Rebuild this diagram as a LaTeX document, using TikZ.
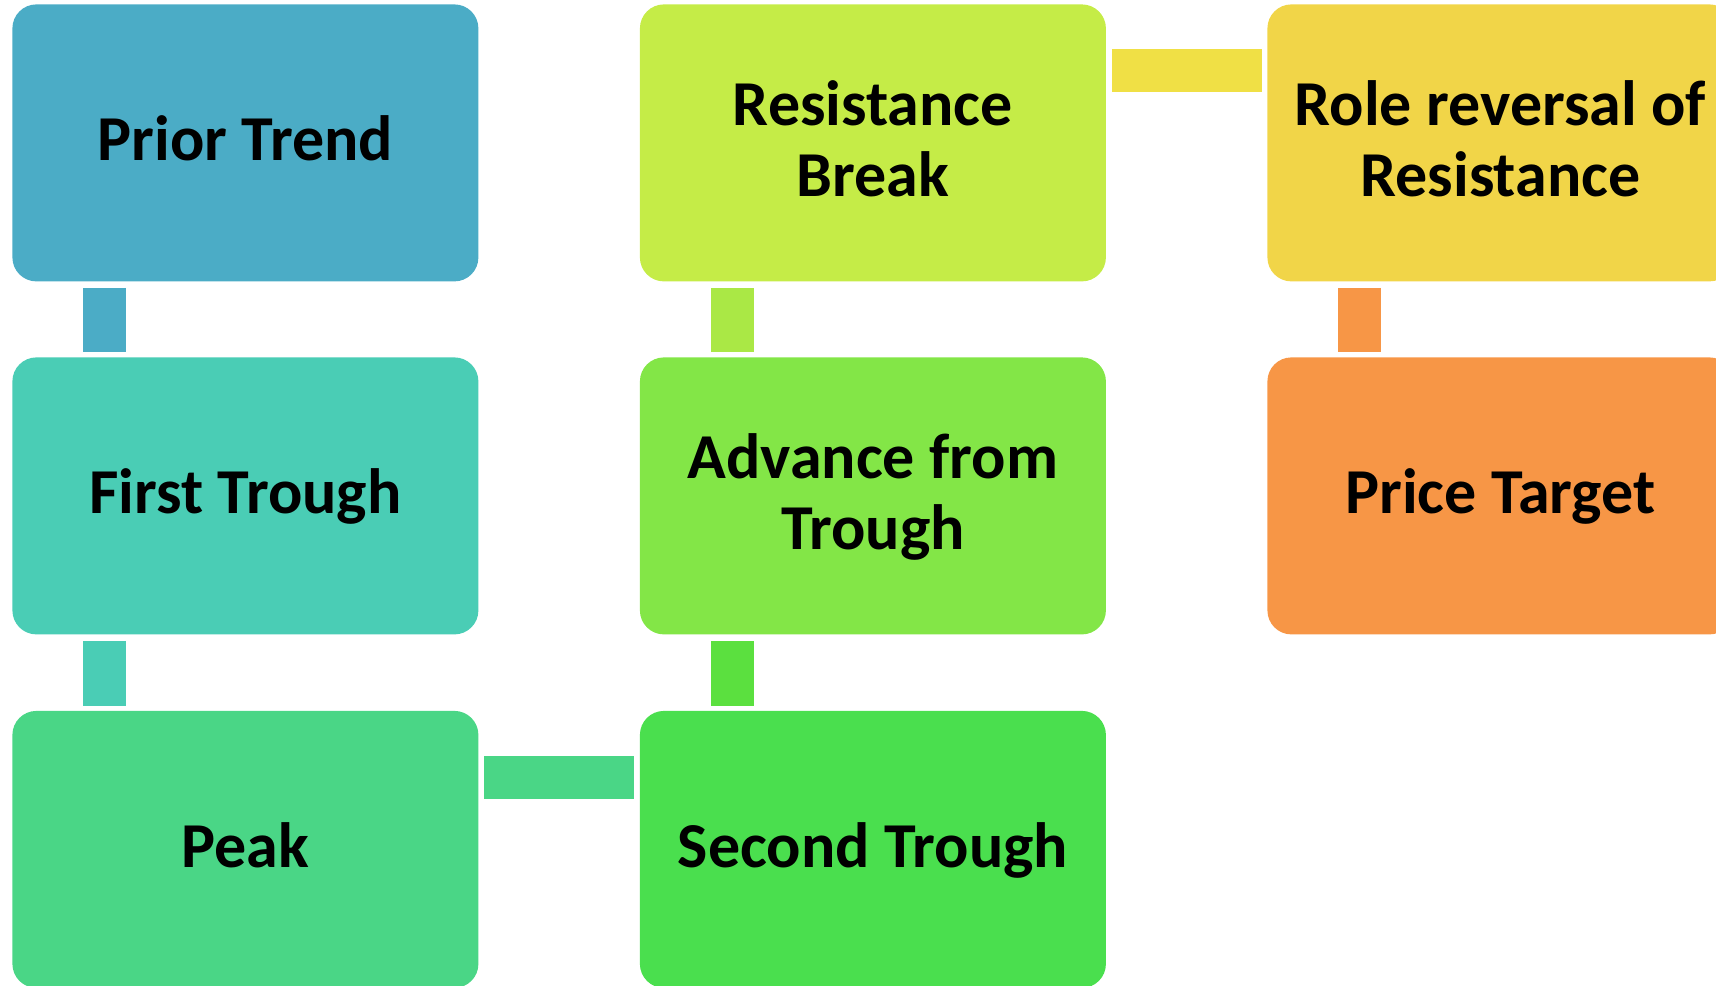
\documentclass[tikz,border=0pt]{standalone}
\usepackage{fontspec}
\setmainfont{Carlito}
\definecolor{cPT}{HTML}{4BACC6}
\definecolor{cFT}{HTML}{4ACDB5}
\definecolor{cPK}{HTML}{4AD686}
\definecolor{cST}{HTML}{4ADF4E}
\definecolor{cAD}{HTML}{83E647}
\definecolor{cRB}{HTML}{C5EC47}
\definecolor{cRR}{HTML}{F1D548}
\definecolor{cPR}{HTML}{F79646}
\definecolor{kSA}{HTML}{5BE03F}
\definecolor{kAR}{HTML}{AAE845}
\definecolor{kRR}{HTML}{F0E045}
\tikzset{
  box/.style={rectangle, rounded corners=12pt, minimum width=233pt, minimum height=138.5pt,
    inner sep=0pt, anchor=north west, align=center, text=black,
    font=\bfseries\fontsize{32pt}{35.3pt}\selectfont},
  oneline/.style={text height=22pt, text depth=4pt},
  twoline/.style={text height=56pt, text depth=2.8pt},
  conn/.style={line width=21.5pt, line cap=butt},
}
\begin{document}
\begin{tikzpicture}[x=0.5pt,y=-0.5pt]
\useasboundingbox (0,0) rectangle (1716,985);
\clip (0,0) rectangle (1716,985);
% boxes
\node[box, oneline, fill=cPT] (pt) at (12,4) {Prior Trend};
\node[box, oneline, fill=cFT] (ft) at (12,357) {First Trough};
\node[box, oneline, fill=cPK] (pk) at (12,710.5) {Peak};
\node[box, oneline, fill=cST] (st) at (639.5,710.5) {Second Trough};
\node[box, twoline, fill=cAD] (ad) at (639.5,357) {Advance from\\Trough};
\node[box, twoline, fill=cRB] (rb) at (639.5,4) {Resistance\\Break};
\node[box, twoline, fill=cRR] (rr) at (1267,4) {Role reversal of\\Resistance};
\node[box, oneline, fill=cPR] (pr) at (1267,357) {Price Target};
% connectors
\draw[conn, cPT] ([xshift=46.25pt,yshift=-3pt]pt.south west) -- ([xshift=46.25pt,yshift=2.5pt]ft.north west);
\draw[conn, cFT] ([xshift=46.25pt,yshift=-3pt]ft.south west) -- ([xshift=46.25pt,yshift=2.5pt]pk.north west);
\draw[conn, cPK] ([xshift=2.75pt,yshift=-33.25pt]pk.north east) -- ([xshift=-2.75pt,yshift=-33.25pt]st.north west);
\draw[conn, kSA] ([xshift=46.25pt,yshift=2.5pt]st.north west) -- ([xshift=46.25pt,yshift=-3pt]ad.south west);
\draw[conn, kAR] ([xshift=46.25pt,yshift=2.5pt]ad.north west) -- ([xshift=46.25pt,yshift=-3pt]rb.south west);
\draw[conn, kRR] ([xshift=2.75pt,yshift=-33.25pt]rb.north east) -- ([xshift=-2.75pt,yshift=-33.25pt]rr.north west);
\draw[conn, cPR] ([xshift=46.25pt,yshift=-3pt]rr.south west) -- ([xshift=46.25pt,yshift=2.5pt]pr.north west);
\end{tikzpicture}
\end{document}
